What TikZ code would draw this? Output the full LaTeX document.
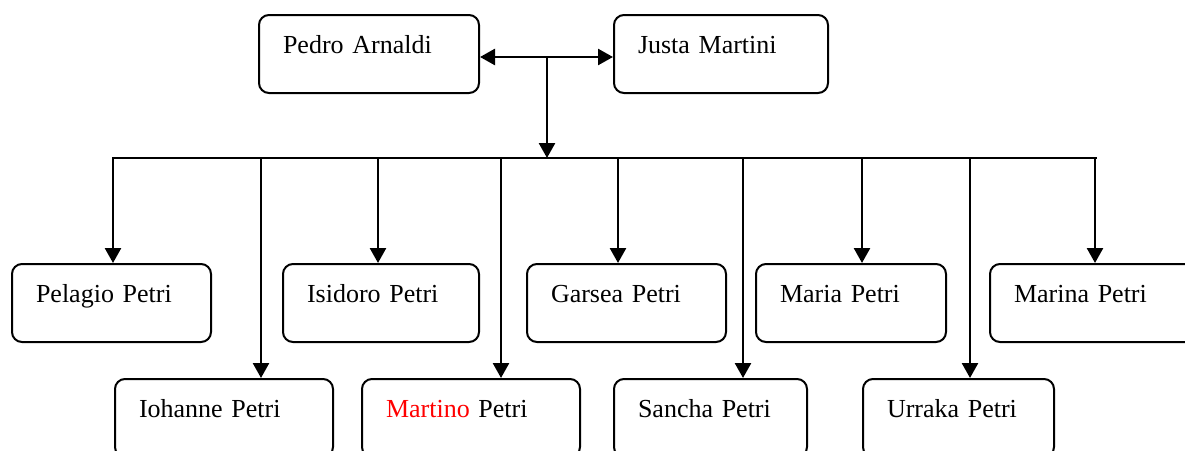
\documentclass[tikz,border=0pt]{standalone}
\usepackage{fontspec}
\setmainfont{Liberation Serif}
\usetikzlibrary{arrows.meta}

\tikzset{
  osoba/.style={draw, rounded corners=10pt, line width=2pt, anchor=north west,
    align=left, inner xsep=24pt, inner ysep=0pt, text height=38pt, text depth=40pt,
    font=\fontsize{26}{31}\selectfont},
  strzalka/.style={-{Triangle[length=15pt,width=16pt]}, line width=2.6pt},
  szyna/.style={line width=2pt}
}

\begin{document}
\begin{tikzpicture}[x=1pt, y=-1pt]
  \useasboundingbox (0,0) rectangle (1185,450);
  \clip (0,0) rectangle (1185,450);

  % Rodzice
  \node[osoba, text width=172pt] (pedro) at (258,14) {Pedro Arnaldi};
  \node[osoba, text width=166pt] (justa) at (613,14) {Justa Martini};

  % Dzieci - pierwszy rzad
  \node[osoba, text width=151pt] (pelagio) at (11,263) {Pelagio Petri};
  \node[osoba, text width=148pt] (isidoro) at (282,263) {Isidoro Petri};
  \node[osoba, text width=151pt] (garsea) at (526,263) {Garsea Petri};
  \node[osoba, text width=142pt] (maria) at (755,263) {Maria Petri};
  \node[osoba, text width=160pt] (marina) at (989,263) {Marina Petri};

  % Dzieci - drugi rzad
  \node[osoba, text width=170pt] (iohanne) at (114,378) {Iohanne Petri};
  \node[osoba, text width=170pt] (martino) at (361,378) {\textcolor{red}{Martino} Petri};
  \node[osoba, text width=145pt] (sancha) at (613,378) {Sancha Petri};
  \node[osoba, text width=143pt] (urraka) at (862,378) {Urraka Petri};

  % Malzenstwo
  \draw[line width=2.6pt, {Triangle[length=15pt,width=16pt]}-{Triangle[length=15pt,width=16pt]}]
    ([yshift=-3pt]pedro.east) -- ([yshift=-3pt]justa.west);
  \coordinate (srodek) at (547,56);
  \coordinate (wezel) at (547,158);
  \draw[strzalka] (srodek) -- (wezel);

  % Szyna
  \coordinate (szynaL) at (112,158);
  \coordinate (szynaR) at (1097,158);
  \draw[szyna] (szynaL) -- (szynaR);

  % Punkty odgalezien
  \coordinate (d1) at (113,158);
  \coordinate (d2) at (261,158);
  \coordinate (d3) at (378,158);
  \coordinate (d4) at (501,158);
  \coordinate (d5) at (618,158);
  \coordinate (d6) at (743,158);
  \coordinate (d7) at (862,158);
  \coordinate (d8) at (970,158);
  \coordinate (d9) at (1095,158);

  % Strzalki do dzieci
  \draw[strzalka] (d1) -- (d1 |- pelagio.north);
  \draw[strzalka] (d2) -- (d2 |- iohanne.north);
  \draw[strzalka] (d3) -- (d3 |- isidoro.north);
  \draw[strzalka] (d4) -- (d4 |- martino.north);
  \draw[strzalka] (d5) -- (d5 |- garsea.north);
  \draw[strzalka] (d6) -- (d6 |- sancha.north);
  \draw[strzalka] (d7) -- (d7 |- maria.north);
  \draw[strzalka] (d8) -- (d8 |- urraka.north);
  \draw[strzalka] (d9) -- (d9 |- marina.north);
\end{tikzpicture}
\end{document}
